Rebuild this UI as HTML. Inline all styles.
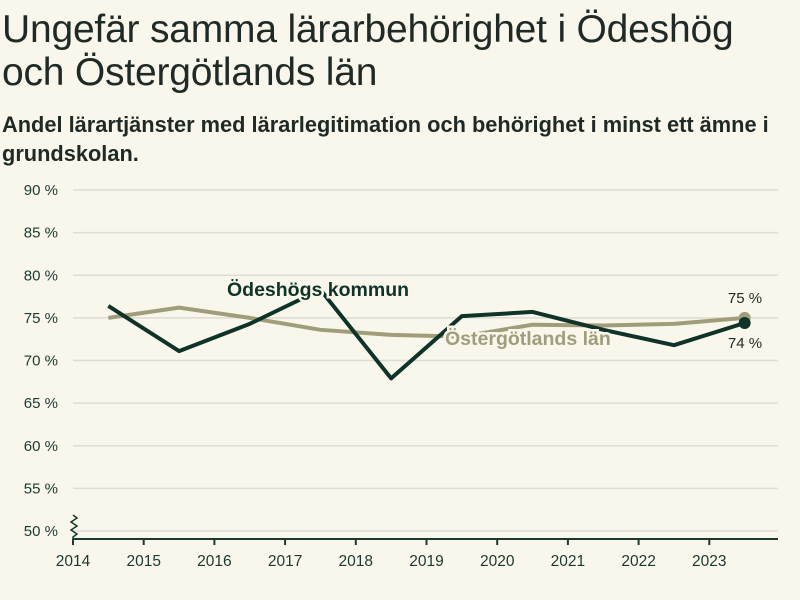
<!DOCTYPE html>
<html><head><meta charset="utf-8"><style>
body{margin:0;background:#f9f7ec;font-family:"Liberation Sans",sans-serif;color:#1a2a24}
#wrap{position:relative;width:800px;height:600px;overflow:hidden;background:#f9f7ec}
h1{position:absolute;left:2px;top:8px;margin:0;font-size:39px;font-weight:normal;line-height:43px;color:#1f2a26;letter-spacing:-0.2px}
h2{position:absolute;left:2px;top:110px;margin:0;font-size:21.8px;font-weight:bold;line-height:29px;color:#1f2a26}
svg{position:absolute;left:0;top:0}
</style></head><body><div id="wrap">
<h1>Ungefär samma lärarbehörighet i Ödeshög<br>och Östergötlands län</h1>
<h2>Andel lärartjänster med lärarlegitimation och behörighet i minst ett ämne i<br>grundskolan.</h2>
<svg id="c" width="800" height="600"></svg>
</div>
<script>
const years=[2014,2015,2016,2017,2018,2019,2020,2021,2022,2023];
const yTicks=[50,55,60,65,70,75,80,85,90];
const odeshog=[76.4,71.1,74.3,78.3,67.9,75.2,75.7,73.6,71.8,74.4];
const ostergotland=[75.0,76.2,75.0,73.6,73.0,72.8,74.2,74.1,74.3,75.0];
const NS="http://www.w3.org/2000/svg";
const svg=document.getElementById('c');
const x=v=>73+(v-2014)*70.7;
const y=v=>531-(v-50)*8.525;
function mk(t,a,p){const e=document.createElementNS(NS,t);for(const k in a)e.setAttribute(k,a[k]);(p||svg).appendChild(e);return e;}
yTicks.forEach(t=>{
 const g=mk('line',{x1:73,x2:778,y1:y(t),y2:y(t),stroke:'#dedcd3','stroke-width':1.5});
 
 
 const l=mk('text',{x:58,y:y(t)+5,'text-anchor':'end','font-size':15,fill:'#1a3a30'});
 l.textContent=t+' %';
 
 
});
const ax=mk('line',{x1:73,x2:778,y1:539,y2:539,stroke:'#1a3a30','stroke-width':2});


const br=mk('path',{d:'M73 515 l4 3 -6 4 6 4 -6 4 6 4 -4 3 v5',fill:'none',stroke:'#1a3a30','stroke-width':1.5});


years.forEach(yr=>{
 const t=mk('line',{x1:x(yr),x2:x(yr),y1:539,y2:545,stroke:'#1a3a30','stroke-width':2});
 
 
 const l=mk('text',{x:x(yr),y:566,'text-anchor':'middle','font-size':15.5,fill:'#1a3a30'});
 l.textContent=yr;
 
 
});
function series(vals,col,name){
 const d=vals.map((v,i)=>(i?'L':'M')+x(years[i]+0.5)+' '+y(v)).join(' ');
 const p=mk('path',{d:d,fill:'none',stroke:col,'stroke-width':4,'stroke-linejoin':'round'});
 
 
 const n=vals.length-1;
 const c=mk('circle',{cx:x(years[n]+0.5),cy:y(vals[n]),r:6,fill:col});
 
 
}
series(ostergotland,'#a09e7a','ostergotland');
series(odeshog,'#0f3328','odeshog');
function label(txt,xx,yy,col,name,size,anchor,w){
 const t=mk('text',{x:xx,y:yy,'font-size':size,fill:col,stroke:'#f9f7ec','stroke-width':5,'paint-order':'stroke','text-anchor':anchor||'start','font-weight':w||'normal'});
 t.textContent=txt;
 
 
}
label('Ödeshögs kommun',227,296,'#0f3328','odeshog-label',19.5,'start','bold');
label('Östergötlands län',445,345,'#a09e7a','ostergotland-label',19.5,'start','bold');
const n=years.length-1;
label(Math.round(ostergotland[n])+' %',745,y(ostergotland[n])-15,'#1f2a26','ostergotland-value',15,'middle');
label(Math.round(odeshog[n])+' %',745,y(odeshog[n])+25,'#1f2a26','odeshog-value',15,'middle');
</script></body></html>
